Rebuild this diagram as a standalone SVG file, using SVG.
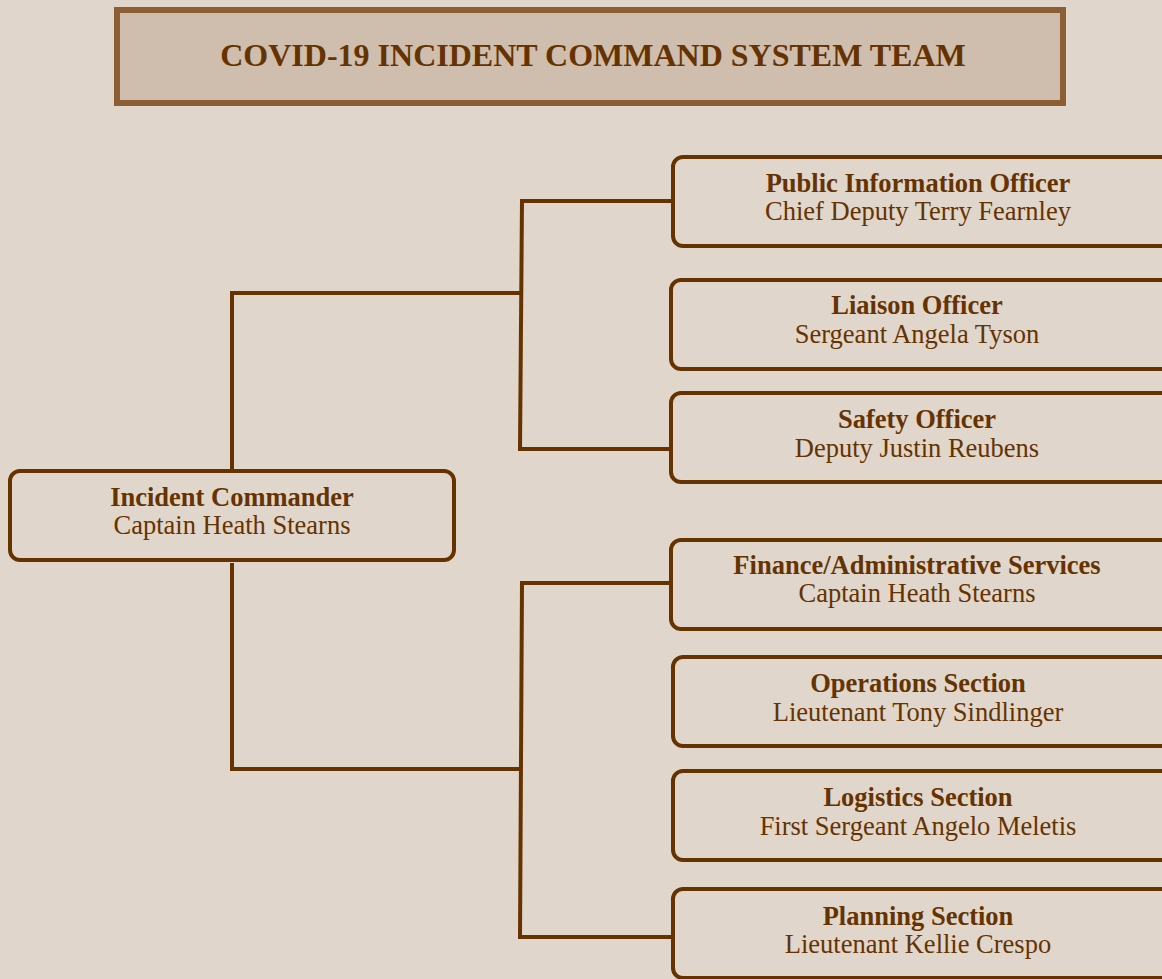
<svg xmlns="http://www.w3.org/2000/svg" width="1162" height="979" viewBox="0 0 1162 979">
<style>
.node rect{fill:#e0d6cb;stroke:#663300;stroke-width:4}
.t{font-family:"Liberation Serif","Times New Roman",serif;fill:#663300;text-anchor:middle;font-size:26.5px}
.b{font-weight:bold}
.c{fill:none;stroke:#663300;stroke-width:4}
</style>
<rect x="0" y="0" width="1162" height="979" fill="#e0d6cb"/>
<g id="title">
<rect x="117" y="10" width="946" height="93" fill="#cfbdad" stroke="#8b5e34" stroke-width="6"/>
<text class="t b" x="593" y="66" style="font-size:32px">COVID-19 INCIDENT COMMAND SYSTEM TEAM</text>
</g>
<g id="connectors" class="c">
<polyline class="c" points="232,470 232,293 521,293"/>
<polyline class="c" points="672,201 522,201 520,449 670,449"/>
<polyline class="c" points="232,563 232,769 521,769"/>
<polyline class="c" points="670,583 522,583 520,937 672,937"/>
</g>
<g id="ic" class="node">
<rect x="10" y="471" width="444" height="89" rx="10"/>
<text class="t b" x="232" y="506">Incident Commander</text>
<text class="t" x="232" y="534">Captain Heath Stearns</text>
</g>
<g id="pio" class="node">
<rect x="673" y="157" width="500" height="89" rx="10"/>
<text class="t b" x="918" y="192">Public Information Officer</text>
<text class="t" x="918" y="220">Chief Deputy Terry Fearnley</text>
</g>
<g id="liaison" class="node">
<rect x="671" y="280" width="500" height="89" rx="10"/>
<text class="t b" x="917" y="314">Liaison Officer</text>
<text class="t" x="917" y="343">Sergeant Angela Tyson</text>
</g>
<g id="safety" class="node">
<rect x="671" y="393" width="500" height="89" rx="10"/>
<text class="t b" x="917" y="428">Safety Officer</text>
<text class="t" x="917" y="457">Deputy Justin Reubens</text>
</g>
<g id="finance" class="node">
<rect x="671" y="540" width="500" height="89" rx="10"/>
<text class="t b" x="917" y="574">Finance/Administrative Services</text>
<text class="t" x="917" y="602">Captain Heath Stearns</text>
</g>
<g id="operations" class="node">
<rect x="673" y="657" width="500" height="89" rx="10"/>
<text class="t b" x="918" y="692">Operations Section</text>
<text class="t" x="918" y="721">Lieutenant Tony Sindlinger</text>
</g>
<g id="logistics" class="node">
<rect x="673" y="771" width="500" height="89" rx="10"/>
<text class="t b" x="918" y="806">Logistics Section</text>
<text class="t" x="918" y="835">First Sergeant Angelo Meletis</text>
</g>
<g id="planning" class="node">
<rect x="673" y="889" width="500" height="89" rx="10"/>
<text class="t b" x="918" y="925">Planning Section</text>
<text class="t" x="918" y="953">Lieutenant Kellie Crespo</text>
</g>
</svg>
